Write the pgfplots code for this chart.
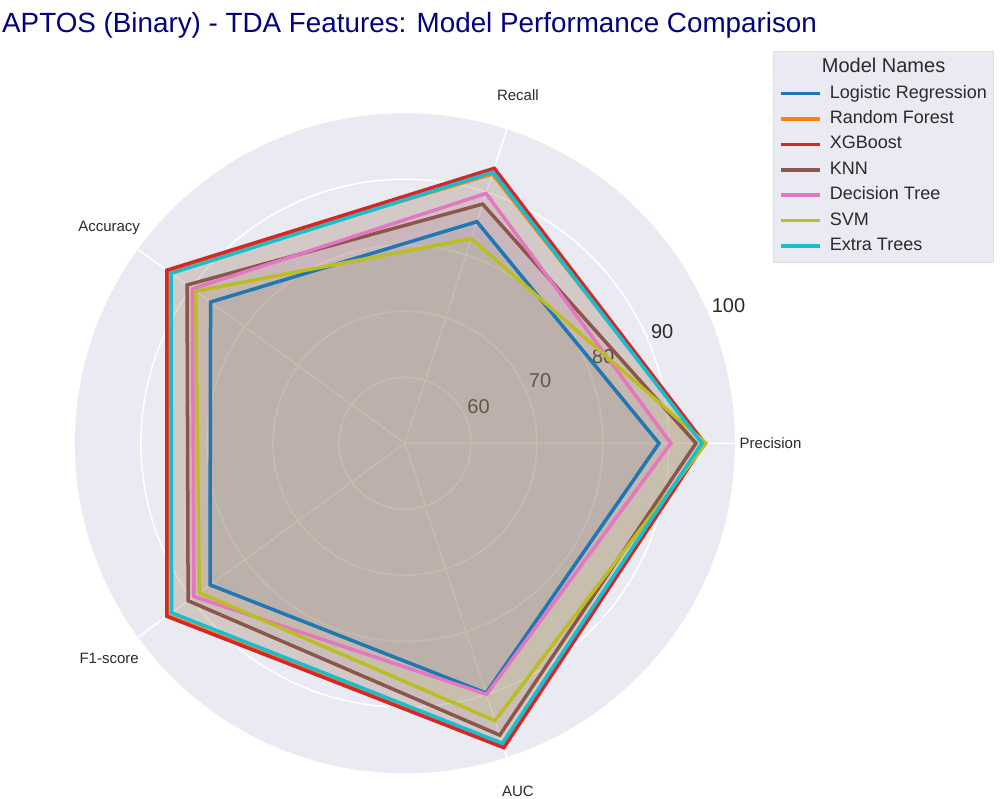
\documentclass[border=0pt]{standalone}
\usepackage{pgfplots}
\pgfplotsset{compat=1.18}
\usepackage{pgfplotstable}
\usepgfplotslibrary{polar}
\usepackage{fontspec}
\setmainfont{Liberation Sans}

\definecolor{polarbg}{RGB}{234,234,242}
\definecolor{txt}{RGB}{42,42,42}
\definecolor{ttl}{RGB}{0,0,128}
\definecolor{cLR}{HTML}{1F77B4}
\definecolor{cRF}{HTML}{FF7F0E}
\definecolor{cXGB}{HTML}{D62728}
\definecolor{cKNN}{HTML}{8C564B}
\definecolor{cDT}{HTML}{E377C2}
\definecolor{cSVM}{HTML}{BCBD22}
\definecolor{cET}{HTML}{17BECF}

% angle: Precision, Recall, Accuracy, F1-score, AUC
\pgfplotstableread{
angle LR   RF   XGB  KNN  DT   SVM  ET
0     88.5 95.3 95.4 94.1 90.3 95.6 95.0
72    85.3 92.9 93.8 88.1 89.8 82.6 93.2
144   86.4 94.4 94.6 90.8 89.8 89.2 93.8
216   86.5 94.4 94.6 90.6 89.5 88.5 93.7
288   89.8 98.2 98.5 96.5 90.0 94.2 97.8
}\scores

\begin{document}
\begin{tikzpicture}[x=1pt,y=1pt]
\path[use as bounding box] (0,0) rectangle (1005,799);
\node[anchor=base west, font=\fontsize{27.8}{27.8}\selectfont, text=ttl, inner sep=0pt]
  at (2,766) {APTOS (Binary) - TDA Features: Model Performance Comparison};
\begin{polaraxis}[
  at={(113.5,39)}, anchor=south west,
  scale only axis, width=660pt, height=660pt,
  xmin=0, xmax=360, ymin=0, ymax=50,
  xtick={0,72,144,216,288}, ytick={10,20,30,40},
  xticklabels={}, yticklabels={},
  grid=major, major grid style={white, line width=1.5pt},
  axis line style={draw=none}, major tick length=0pt,
  axis background/.style={fill=polarbg},
  clip=false,
  legend style={at={(axis description cs:1.0576,1.094)}, anchor=north west,
    fill=polarbg, draw=black!12, line width=1pt,
    font=\fontsize{18}{18}\selectfont, text=txt,
    inner xsep=6pt, inner ysep=8pt, row sep=8.4pt,
    nodes={inner sep=0pt, text height=13pt, text depth=4pt},
    /tikz/every odd column/.append style={column sep=8pt}},
  legend cell align=left,
  legend image code/.code={\draw[#1, line width=3.5pt] (0pt,0pt) -- (39pt,0pt);},
]
\addlegendimage{empty legend}
\addlegendentry{\hspace*{-8pt}\fontsize{20}{20}\selectfont Model Names}

\begin{scope}[every node/.style={text=txt, font=\fontsize{20}{20}\selectfont}]
\node at (axis cs:26.7,12.5) {60};
\node at (axis cs:25.0,22.6) {70};
\node at (axis cs:23.7,32.8) {80};
\node at (axis cs:23.5,42.5) {90};
\node at (axis cs:23.1,53.3) {100};
\end{scope}
\begin{scope}[every node/.style={text=txt, font=\fontsize{15}{15}\selectfont}]
\node at (axis cs:0,55.4)   {Precision};
\node at (axis cs:72,55.4)  {Recall};
\node at (axis cs:144,55.4) {Accuracy};
\node at (axis cs:216,55.4) {F1-score};
\node at (axis cs:288,55.4) {AUC};
\end{scope}

% translucent fills first
\pgfplotsinvokeforeach{LR,RF,XGB,KNN,DT,SVM,ET}{
  \addplot[draw=none, fill=c#1, fill opacity=0.1, forget plot]
    table[x=angle, y expr=\thisrow{#1}-50] {\scores} -- cycle;
}
% outlines on top
\pgfplotsset{every axis plot/.append style={line width=3.5pt, line join=miter}}
\addplot[draw=cLR] table[x=angle, y expr=\thisrow{LR}-50] {\scores} -- cycle;
\addlegendentry{Logistic Regression}
\addplot[draw=cRF] table[x=angle, y expr=\thisrow{RF}-50] {\scores} -- cycle;
\addlegendentry{Random Forest}
\addplot[draw=cXGB] table[x=angle, y expr=\thisrow{XGB}-50] {\scores} -- cycle;
\addlegendentry{XGBoost}
\addplot[draw=cKNN] table[x=angle, y expr=\thisrow{KNN}-50] {\scores} -- cycle;
\addlegendentry{KNN}
\addplot[draw=cDT] table[x=angle, y expr=\thisrow{DT}-50] {\scores} -- cycle;
\addlegendentry{Decision Tree}
\addplot[draw=cSVM] table[x=angle, y expr=\thisrow{SVM}-50] {\scores} -- cycle;
\addlegendentry{SVM}
\addplot[draw=cET] table[x=angle, y expr=\thisrow{ET}-50] {\scores} -- cycle;
\addlegendentry{Extra Trees}
\end{polaraxis}
\end{tikzpicture}
\end{document}
